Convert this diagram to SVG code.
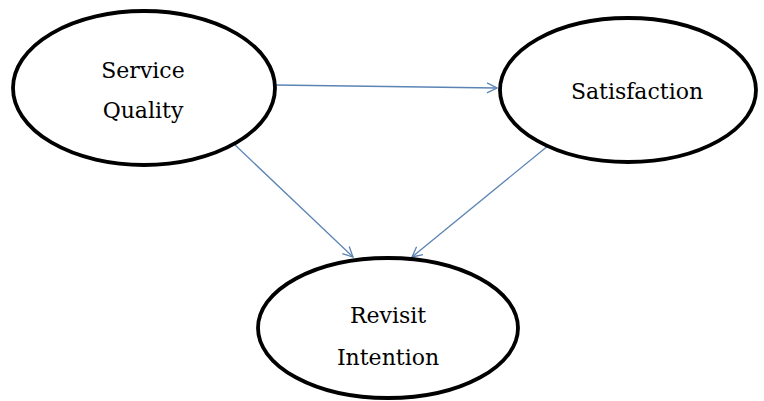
<svg xmlns="http://www.w3.org/2000/svg" width="764" height="401" viewBox="0 0 764 401">
<style>
.node{fill:#fff;stroke:#000;stroke-width:3.8}
.lbl{font-family:'DejaVu Serif','Liberation Serif',serif;font-size:22px;fill:#000;text-anchor:middle}
.edge{stroke:#5B84B5;stroke-width:1.3;fill:none;marker-end:url(#arr)}
</style>
<defs>
<marker id="arr" viewBox="0 0 12 12" refX="11" refY="6" markerWidth="12" markerHeight="12" markerUnits="userSpaceOnUse" orient="auto">
<path d="M1,1 L11,6 L1,11" fill="none" stroke="#5B84B5" stroke-width="1.3"/>
</marker>
</defs>
<rect width="764" height="401" fill="#fff"/>
<g id="connectors">
<line class="edge" x1="275" y1="85" x2="497" y2="88"/>
<line class="edge" x1="234" y1="144" x2="353" y2="257"/>
<line class="edge" x1="549" y1="145" x2="412" y2="257"/>
</g>
<g id="service-quality">
<ellipse class="node" cx="144" cy="88" rx="131" ry="77"/>
<text class="lbl" x="143" y="78">Service</text>
<text class="lbl" x="143" y="118">Quality</text>
</g>
<g id="satisfaction">
<ellipse class="node" cx="628" cy="90" rx="128" ry="72"/>
<text class="lbl" x="637" y="99">Satisfaction</text>
</g>
<g id="revisit-intention">
<ellipse class="node" cx="388" cy="328" rx="130" ry="70"/>
<text class="lbl" x="388" y="323">Revisit</text>
<text class="lbl" x="388" y="365">Intention</text>
</g>
</svg>
